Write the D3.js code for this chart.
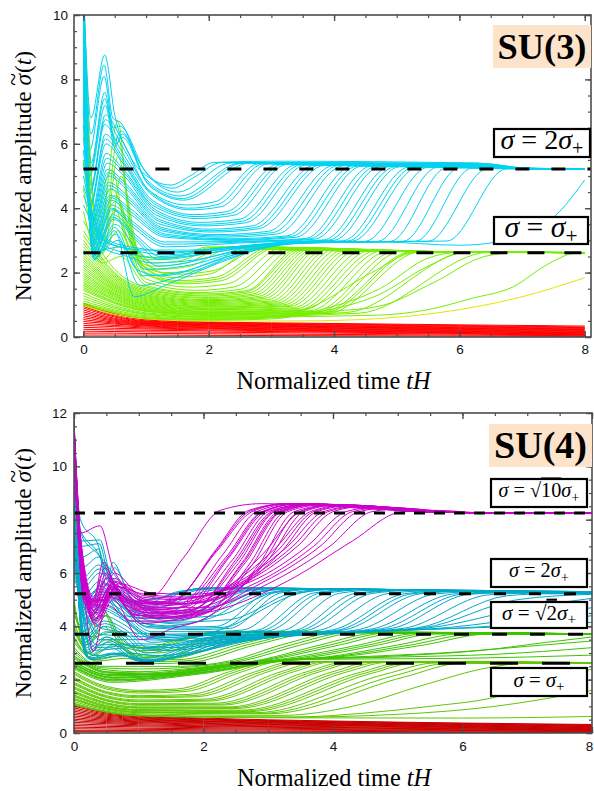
<!DOCTYPE html>
<html>
<head>
<meta charset="utf-8">
<script src="https://cdn.jsdelivr.net/npm/d3@7"></script>
<style>
  body { margin: 0; background: #fff; }
</style>
</head>
<body>
<svg id="chart" width="594" height="791"></svg>
<script>
// ---------------- data: SU(3) panel ----------------
const xTicks = [0, 2, 4, 6, 8];
const su3YTicks = [0, 2, 4, 6, 8, 10];
const su4YTicks = [0, 2, 4, 6, 8, 10, 12];

const su3Levels = [5.22, 2.62];
const su4Levels = [8.25, 5.22, 3.7, 2.62];

// red family, values at shared times
const su3RedTimes = [0, 0.5, 1, 2, 4, 8];
const su3Red = [
  [1.05, 0.72, 0.56, 0.47, 0.42, 0.34],
  [1.00, 0.69, 0.53, 0.45, 0.40, 0.31],
  [0.95, 0.65, 0.50, 0.43, 0.38, 0.29],
  [0.90, 0.62, 0.48, 0.42, 0.36, 0.27],
  [0.84, 0.58, 0.46, 0.40, 0.34, 0.25],
  [0.78, 0.55, 0.44, 0.38, 0.32, 0.23],
  [0.72, 0.52, 0.42, 0.37, 0.31, 0.21],
  [0.66, 0.49, 0.40, 0.35, 0.29, 0.19],
  [0.60, 0.46, 0.38, 0.33, 0.27, 0.17],
  [0.54, 0.43, 0.36, 0.31, 0.25, 0.15],
  [0.48, 0.40, 0.34, 0.29, 0.23, 0.13],
  [0.42, 0.36, 0.31, 0.27, 0.21, 0.12],
  [0.36, 0.32, 0.28, 0.25, 0.19, 0.10],
  [0.30, 0.27, 0.25, 0.22, 0.17, 0.09],
  [0.24, 0.22, 0.21, 0.19, 0.15, 0.07],
  [0.18, 0.17, 0.16, 0.15, 0.12, 0.06],
  [0.12, 0.12, 0.11, 0.10, 0.08, 0.04],
  [0.06, 0.06, 0.06, 0.05, 0.04, 0.02]
];

const su3Yellow = [
  [[0,0.98],[0.5,0.7],[1,0.56],[2,0.49],[3.5,0.5],[4.7,0.57],[6,0.85],[7,1.25],[8,1.84]]
];

const su3Green = [
  [[0,10.8],[0.1,6],[0.25,3.2],[0.55,6.7],[0.75,3.3],[1,2.5],[1.4,2.45],[2,2.8],[2.8,2.72],[6.5,2.64],[8,2.62]],
  [[0,1.12],[0.5,0.84],[1,0.66],[2,0.58],[3,0.62],[3.8,0.8],[4.7,1.3],[5.5,2.2],[6.1,2.64],[8,2.62]],
  [[0,10.5],[0.12,5],[0.3,2.8],[0.55,6.2],[0.8,3.0],[1.1,2.3],[1.5,2.35],[2.2,2.8],[3,2.72],[6.5,2.64],[8,2.62]],
  [[0,1.06],[0.5,0.8],[1,0.63],[2,0.56],[3.2,0.62],[4,0.8],[4.73,0.96],[5.6,1.7],[6.4,2.5],[7,2.64],[8,2.62]],
  [[0,10.2],[0.12,4.2],[0.3,2.6],[0.5,4.0],[0.7,2.9],[1,2.4],[1.5,2.5],[2.1,2.79],[2.9,2.72],[6.5,2.64],[8,2.62]],
  [[0,10],[0.1,4.5],[0.35,3.3],[0.55,5.6],[0.85,2.7],[1.2,2.1],[1.7,2.2],[2.4,2.8],[3.2,2.72],[6.5,2.63],[8,2.62]],
  [[0,1.02],[0.5,0.77],[1,0.6],[2,0.54],[2.8,0.57],[3.6,0.9],[4.6,2.0],[5.3,2.62],[8,2.62]],
  [[0,9.5],[0.15,3.8],[0.4,2.9],[0.6,5.0],[0.9,2.5],[1.3,2.0],[1.9,2.1],[2.6,2.8],[3.4,2.72],[6.5,2.63],[8,2.62]],
  [[0,9],[0.15,3.6],[0.45,5.2],[0.75,2.6],[1.1,2.2],[1.6,2.28],[2.3,2.8],[3.1,2.72],[6.5,2.63],[8,2.62]],
  [[0,0.99],[0.5,0.75],[1,0.58],[2,0.52],[3,0.56],[3.8,0.85],[4.73,1.5],[5.5,2.45],[6,2.63],[8,2.62]],
  [[0,8.5],[0.15,3.4],[0.45,4.6],[0.9,2.3],[1.4,1.85],[2,1.95],[2.8,2.8],[3.6,2.72],[6.5,2.63],[8,2.62]],
  [[0,8],[0.18,3.2],[0.5,4.4],[0.95,2.2],[1.45,1.95],[2.05,2.05],[2.9,2.8],[3.7,2.71],[6.5,2.63],[8,2.62]],
  [[0,7.5],[0.2,3.0],[0.5,4.2],[1,2.1],[1.5,1.75],[2.1,1.85],[3,2.8],[3.8,2.71],[6.5,2.63],[8,2.62]],
  [[0,7],[0.2,2.9],[0.52,3.9],[1,2.0],[1.55,1.7],[2.15,1.8],[3.05,2.79],[3.9,2.7],[6.5,2.63],[8,2.62]],
  [[0,6.5],[0.2,2.7],[0.5,3.7],[1,1.95],[1.6,1.65],[2.2,1.75],[3.1,2.79],[4,2.7],[6.5,2.63],[8,2.62]],
  [[0,5.5],[0.25,2.5],[0.55,3.3],[1,1.8],[1.7,1.55],[2.3,1.65],[3.2,2.79],[4.1,2.7],[6.5,2.63],[8,2.62]],
  [[0,4.6],[0.3,2.4],[0.6,2.9],[1,1.7],[1.8,1.45],[2.4,1.55],[3.3,2.78],[4.2,2.7],[6.5,2.63],[8,2.62]],
  [[0,3.9],[0.3,2.3],[0.6,2.5],[1,1.6],[1.8,1.38],[2.5,1.48],[3.4,2.78],[4.3,2.7],[6.5,2.63],[8,2.62]],
  [[0,3.6],[0.5,2.1],[1,1.55],[1.9,1.34],[2.6,1.44],[3.45,2.78],[4.3,2.7],[6.5,2.63],[8,2.62]],
  [[0,3.3],[0.5,2.0],[1,1.5],[1.9,1.3],[2.6,1.4],[3.5,2.77],[4.4,2.7],[6.5,2.63],[8,2.62]],
  [[0,3.15],[0.5,1.95],[1,1.46],[2,1.27],[2.65,1.37],[3.55,2.77],[4.45,2.7],[6.5,2.63],[8,2.62]],
  [[0,3.0],[0.5,1.9],[1,1.42],[2,1.23],[2.7,1.33],[3.6,2.77],[4.5,2.69],[6.5,2.63],[8,2.62]],
  [[0,2.9],[0.5,1.85],[1,1.38],[2,1.2],[2.75,1.3],[3.65,2.77],[4.55,2.69],[6.5,2.63],[8,2.62]],
  [[0,2.8],[0.5,1.8],[1,1.35],[2,1.16],[2.8,1.26],[3.7,2.76],[4.6,2.69],[6.5,2.63],[8,2.62]],
  [[0,2.7],[0.5,1.75],[1,1.31],[2,1.13],[2.85,1.23],[3.75,2.76],[4.65,2.69],[6.5,2.63],[8,2.62]],
  [[0,2.6],[0.5,1.7],[1,1.28],[2,1.1],[2.9,1.2],[3.8,2.76],[4.7,2.69],[6.5,2.63],[8,2.62]],
  [[0,2.52],[0.5,1.66],[1,1.25],[2,1.07],[2.95,1.16],[3.88,2.75],[4.75,2.68],[6.5,2.63],[8,2.62]],
  [[0,2.45],[0.5,1.62],[1,1.22],[2,1.04],[3,1.12],[3.95,2.75],[4.8,2.68],[6.5,2.63],[8,2.62]],
  [[0,2.38],[0.5,1.58],[1,1.19],[2,1.01],[3.05,1.09],[4.02,2.74],[4.9,2.68],[6.5,2.63],[8,2.62]],
  [[0,2.3],[0.5,1.55],[1,1.16],[2,0.98],[3.1,1.06],[4.1,2.74],[5,2.68],[6.5,2.63],[8,2.62]],
  [[0,2.22],[0.5,1.51],[1,1.13],[2,0.95],[3.15,1.03],[4.18,2.73],[5.05,2.67],[6.5,2.63],[8,2.62]],
  [[0,2.15],[0.5,1.47],[1,1.1],[2,0.93],[3.2,1.0],[4.25,2.73],[5.1,2.67],[6.5,2.63],[8,2.62]],
  [[0,2.08],[0.5,1.44],[1,1.07],[2,0.9],[3.25,0.97],[4.32,2.72],[5.15,2.67],[6.5,2.63],[8,2.62]],
  [[0,2.0],[0.5,1.4],[1,1.04],[2,0.88],[3.3,0.95],[4.4,2.72],[5.2,2.67],[6.5,2.63],[8,2.62]],
  [[0,1.94],[0.5,1.36],[1,1.01],[2,0.85],[3.35,0.91],[4.5,2.71],[5.3,2.66],[8,2.62]],
  [[0,1.88],[0.5,1.33],[1,0.99],[2,0.83],[3.4,0.88],[4.6,2.7],[5.4,2.66],[8,2.62]],
  [[0,1.82],[0.5,1.29],[1,0.96],[2,0.8],[3.45,0.85],[4.7,2.7],[5.5,2.65],[8,2.62]],
  [[0,1.76],[0.5,1.26],[1,0.93],[2,0.78],[3.5,0.83],[4.8,2.7],[5.6,2.65],[8,2.62]],
  [[0,1.7],[0.5,1.22],[1,0.9],[2,0.76],[3.6,0.81],[4.9,2.69],[5.7,2.65],[8,2.62]],
  [[0,1.65],[0.5,1.18],[1,0.88],[2,0.74],[3.7,0.8],[5.0,2.68],[5.8,2.65],[8,2.62]],
  [[0,1.6],[0.5,1.15],[1,0.85],[2,0.72],[3.75,0.78],[5.1,2.67],[5.9,2.64],[8,2.62]],
  [[0,1.55],[0.5,1.1],[1,0.83],[2,0.7],[3.8,0.76],[5.26,2.66],[6,2.64],[8,2.62]],
  [[0,1.5],[0.5,1.07],[1,0.81],[2,0.69],[3.85,0.75],[5.3,2.66],[6.05,2.64],[8,2.62]],
  [[0,1.45],[0.5,1.04],[1,0.79],[2,0.67],[3.9,0.73],[5.4,2.66],[6.1,2.64],[8,2.62]],
  [[0,1.36],[0.5,0.98],[1,0.75],[2,0.64],[4.2,0.76],[6.17,2.65],[8,2.62]],
  [[0,1.28],[0.5,0.93],[1,0.72],[2,0.62],[4.4,0.74],[6.5,2.64],[8,2.62]],
  [[0,1.2],[0.5,0.89],[1,0.7],[2,0.61],[4.7,0.68],[5.5,0.85],[6.2,1.2],[6.86,1.56],[7.4,2.25],[7.87,2.62],[8,2.63]]
];

const su3Cyan = [
  [[0,11],[0.12,6.8],[0.34,8.76],[0.5,6.9],[0.75,5.6],[1.05,4.95],[1.39,4.72],[1.7,5.0],[2.08,5.42],[3,5.46],[6.3,5.4],[7.1,5.24],[8,5.22]],
  [[0,11],[0.12,6.3],[0.33,8.45],[0.47,6.8],[0.6,6.65],[0.9,5.4],[1.42,4.62],[1.8,5.0],[2.2,5.42],[6.3,5.4],[7.1,5.24],[8,5.22]],
  [[0,11],[0.1,5.8],[0.33,8.1],[0.48,6.5],[0.58,6.55],[1,5.1],[1.5,4.5],[2.35,5.4],[6.2,5.38],[7.1,5.23],[8,5.22]],
  [[0,11],[0.12,5.4],[0.34,7.6],[0.5,6.1],[0.6,6.4],[1,4.9],[1.55,4.38],[2.5,5.4],[6.2,5.37],[7.1,5.23],[8,5.22]],
  [[0,11],[0.11,5.2],[0.34,7.4],[0.52,6.0],[0.62,6.2],[1.02,4.8],[1.58,4.3],[2.55,5.4],[6.2,5.37],[7.1,5.23],[8,5.22]],
  [[0,11],[0.1,5.0],[0.35,7.2],[0.5,5.9],[0.62,6.3],[1.05,4.7],[1.6,4.25],[2.65,5.4],[6.2,5.36],[7.1,5.23],[8,5.22]],
  [[0,11],[0.12,4.7],[0.35,6.9],[0.62,6.1],[1.05,4.55],[1.65,4.1],[2.1,4.2],[2.8,5.38],[6,5.35],[7,5.23],[8,5.22]],
  [[0,11],[0.11,4.55],[0.35,6.75],[0.61,5.95],[1.07,4.5],[1.68,4.0],[2.15,4.12],[2.88,5.38],[6,5.35],[7,5.23],[8,5.22]],
  [[0,11],[0.1,4.4],[0.34,6.6],[0.6,5.8],[1.1,4.4],[1.7,3.95],[2.2,4.05],[2.95,5.38],[6,5.34],[7,5.23],[8,5.22]],
  [[0,11],[0.12,4.2],[0.35,6.3],[0.62,5.6],[1.1,4.25],[1.75,3.8],[2.3,3.9],[3.1,5.36],[6,5.33],[7,5.23],[8,5.22]],
  [[0,11],[0.11,4.1],[0.35,6.15],[0.62,5.5],[1.1,4.18],[1.78,3.74],[2.35,3.84],[3.18,5.36],[6,5.33],[7,5.23],[8,5.22]],
  [[0,11],[0.1,4.0],[0.36,6.0],[0.63,5.4],[1.1,4.1],[1.8,3.68],[2.4,3.78],[3.25,5.36],[6,5.32],[7,5.23],[8,5.22]],
  [[0,10.8],[0.12,3.8],[0.36,5.7],[0.64,5.2],[1.15,3.95],[1.85,3.56],[2.5,3.66],[3.4,5.35],[6,5.31],[7,5.23],[8,5.22]],
  [[0,10.7],[0.12,3.7],[0.37,5.55],[0.65,5.1],[1.15,3.88],[1.88,3.5],[2.55,3.6],[3.48,5.35],[6,5.31],[7,5.23],[8,5.22]],
  [[0,10.6],[0.12,3.6],[0.38,5.4],[0.65,5.0],[1.15,3.8],[1.9,3.45],[2.6,3.55],[3.55,5.34],[6,5.3],[7,5.23],[8,5.22]],
  [[0,10.4],[0.12,3.45],[0.38,5.2],[0.66,4.8],[1.2,3.66],[2,3.35],[2.7,3.45],[3.7,5.34],[6,5.3],[7,5.23],[8,5.22]],
  [[0,10.3],[0.12,3.4],[0.39,5.1],[0.67,4.7],[1.2,3.6],[2.02,3.3],[2.75,3.4],[3.78,5.34],[6,5.3],[7,5.23],[8,5.22]],
  [[0,10.2],[0.13,3.3],[0.4,5.0],[0.68,4.6],[1.2,3.52],[2.05,3.26],[2.8,3.36],[3.85,5.33],[6.1,5.3],[7,5.23],[8,5.22]],
  [[0,10],[0.13,3.15],[0.4,4.8],[0.7,4.4],[1.25,3.4],[2.1,3.18],[2.95,3.28],[4.0,5.33],[6.1,5.3],[7,5.23],[8,5.22]],
  [[0,9.9],[0.13,3.1],[0.41,4.7],[0.71,4.3],[1.25,3.35],[2.15,3.14],[3.02,3.24],[4.08,5.33],[6.1,5.3],[7,5.23],[8,5.22]],
  [[0,9.8],[0.14,3.0],[0.42,4.6],[0.72,4.2],[1.25,3.3],[2.2,3.1],[3.1,3.2],[4.15,5.32],[6.1,5.3],[7,5.23],[8,5.22]],
  [[0,9.5],[0.14,2.9],[0.42,4.4],[0.74,4.0],[1.3,3.2],[2.3,3.05],[3.25,3.14],[4.3,5.32],[6.2,5.3],[7,5.23],[8,5.22]],
  [[0,9.35],[0.14,2.85],[0.43,4.33],[0.75,3.9],[1.3,3.15],[2.35,3.02],[3.32,3.12],[4.38,5.31],[6.2,5.3],[7,5.23],[8,5.22]],
  [[0,9.2],[0.15,2.8],[0.44,4.25],[0.76,3.8],[1.3,3.1],[2.4,3.0],[3.4,3.1],[4.45,5.31],[6.2,5.3],[7,5.23],[8,5.22]],
  [[0,9],[0.15,2.7],[0.45,4.1],[0.78,3.6],[1.3,2.95],[2.5,2.97],[3.55,3.06],[4.6,5.31],[6.3,5.3],[7.1,5.23],[8,5.22]],
  [[0,8.8],[0.15,2.65],[0.45,4.0],[0.79,3.5],[1.3,2.88],[2.5,2.95],[3.62,3.05],[4.68,5.3],[6.3,5.29],[7.1,5.23],[8,5.22]],
  [[0,8.6],[0.15,2.6],[0.46,3.95],[0.8,3.4],[1.3,2.8],[2.5,2.92],[3.7,3.04],[4.75,5.3],[6.3,5.29],[7.1,5.23],[8,5.22]],
  [[0,8.2],[0.16,2.55],[0.47,3.8],[0.82,3.2],[1.25,2.6],[2.4,2.8],[3.2,2.95],[3.85,3.02],[4.9,5.3],[6.4,5.29],[7.1,5.23],[8,5.22]],
  [[0,8],[0.16,2.52],[0.47,3.72],[0.83,3.1],[1.22,2.5],[2.35,2.75],[3.2,2.94],[3.92,3.01],[4.98,5.29],[6.4,5.28],[7.1,5.23],[8,5.22]],
  [[0,7.8],[0.16,2.5],[0.48,3.65],[0.84,3.0],[1.2,2.4],[2.3,2.7],[3.2,2.93],[4.0,3.0],[5.05,5.29],[6.4,5.28],[7.1,5.23],[8,5.22]],
  [[0,7.4],[0.17,2.45],[0.5,3.5],[0.86,2.7],[1.2,2.2],[2.3,2.6],[3.2,2.92],[4.15,2.99],[5.2,5.28],[6.5,5.28],[7.2,5.23],[8,5.22]],
  [[0,7.2],[0.17,2.42],[0.5,3.4],[0.85,2.1],[1.25,1.9],[2.3,2.5],[3.2,2.91],[4.22,2.98],[5.28,5.28],[6.5,5.27],[7.2,5.23],[8,5.22]],
  [[0,7],[0.18,2.4],[0.5,3.3],[0.81,1.25],[1.3,1.6],[2.3,2.4],[3.2,2.9],[4.3,2.98],[5.35,5.28],[6.5,5.27],[7.2,5.23],[8,5.22]],
  [[0,6.6],[0.2,2.5],[0.52,3.2],[0.9,1.6],[1.4,1.8],[2.4,2.5],[3.3,2.9],[4.5,2.97],[5.5,5.27],[6.6,5.26],[7.3,5.23],[8,5.22]],
  [[0,6.2],[0.22,2.6],[0.55,3.0],[0.95,1.9],[1.5,2.0],[2.5,2.6],[3.4,2.9],[4.7,2.97],[5.65,5.27],[6.7,5.26],[7.3,5.23],[8,5.22]],
  [[0,5.8],[0.25,2.7],[0.6,2.8],[1,2.1],[1.6,2.2],[2.6,2.7],[3.5,2.92],[4.9,2.97],[5.8,5.26],[6.8,5.25],[8,5.22]],
  [[0,5.4],[0.3,2.8],[0.7,2.5],[1.1,2.3],[1.8,2.4],[2.7,2.8],[3.6,2.93],[5.1,2.97],[6.0,5.25],[7,5.24],[8,5.22]],
  [[0,5.0],[0.3,2.9],[0.7,2.6],[1.2,2.45],[2,2.6],[2.8,2.85],[3.7,2.94],[5.3,2.97],[6.2,5.24],[8,5.22]],
  [[0,4.7],[0.35,3.0],[0.8,2.7],[1.3,2.55],[2.1,2.7],[2.9,2.88],[3.8,2.95],[5.5,2.97],[6.45,5.23],[8,5.22]],
  [[0,4.4],[0.4,3.0],[0.9,2.75],[1.5,2.65],[2.3,2.78],[3,2.9],[4,2.95],[5.8,2.98],[6.75,5.22],[8,5.22]],
  [[0,4.1],[0.4,2.9],[1,2.7],[1.7,2.7],[2.5,2.82],[3.3,2.92],[4.73,2.95],[6,2.85],[6.6,2.95],[7.12,3.23],[7.6,3.9],[8,4.88]]
];

// ---------------- data: SU(4) panel ----------------
const su4RedTimes = [0, 0.5, 1, 2, 4, 8];
const su4Red = [
  [1.05, 0.78, 0.66, 0.56, 0.45, 0.32],
  [1.00, 0.75, 0.63, 0.53, 0.43, 0.30],
  [0.94, 0.71, 0.60, 0.51, 0.41, 0.28],
  [0.88, 0.67, 0.57, 0.49, 0.39, 0.26],
  [0.82, 0.63, 0.54, 0.46, 0.37, 0.24],
  [0.76, 0.59, 0.51, 0.44, 0.35, 0.22],
  [0.70, 0.55, 0.48, 0.42, 0.33, 0.20],
  [0.64, 0.51, 0.45, 0.39, 0.31, 0.18],
  [0.58, 0.47, 0.42, 0.36, 0.29, 0.16],
  [0.52, 0.43, 0.39, 0.33, 0.27, 0.14],
  [0.46, 0.39, 0.35, 0.30, 0.24, 0.13],
  [0.40, 0.35, 0.31, 0.27, 0.21, 0.11],
  [0.34, 0.30, 0.27, 0.24, 0.19, 0.10],
  [0.28, 0.25, 0.23, 0.20, 0.16, 0.08],
  [0.22, 0.20, 0.18, 0.16, 0.13, 0.06],
  [0.16, 0.15, 0.14, 0.12, 0.10, 0.05],
  [0.10, 0.10, 0.09, 0.08, 0.06, 0.03],
  [0.05, 0.05, 0.05, 0.04, 0.03, 0.01]
];

const su4GreenLow = [
  [[0,2.3],[0.5,1.75],[1,1.6],[1.6,1.65],[2.4,2.3],[3,2.68],[5,2.68],[8,2.64]],
  [[0,2.25],[0.5,1.7],[1,1.55],[1.65,1.6],[2.5,2.3],[3.1,2.68],[5,2.68],[8,2.64]],
  [[0,2.2],[0.5,1.65],[1,1.5],[1.7,1.55],[2.6,2.3],[3.2,2.68],[5,2.68],[8,2.64]],
  [[0,2.1],[0.5,1.55],[1,1.4],[1.8,1.45],[2.8,2.3],[3.4,2.68],[5.5,2.67],[8,2.63]],
  [[0,2.05],[0.5,1.52],[1,1.36],[1.85,1.4],[2.9,2.3],[3.5,2.68],[5.5,2.67],[8,2.63]],
  [[0,2.0],[0.5,1.48],[1,1.32],[1.9,1.36],[3.0,2.3],[3.6,2.68],[5.5,2.67],[8,2.63]],
  [[0,1.9],[0.5,1.4],[1,1.24],[2,1.27],[3.2,2.3],[3.8,2.67],[6,2.66],[8,2.63]],
  [[0,1.86],[0.5,1.36],[1,1.2],[2.05,1.23],[3.3,2.3],[3.9,2.67],[6,2.66],[8,2.63]],
  [[0,1.82],[0.5,1.33],[1,1.17],[2.1,1.2],[3.4,2.3],[4.0,2.67],[6,2.66],[8,2.63]],
  [[0,1.74],[0.5,1.26],[1,1.1],[2.2,1.12],[3.6,2.3],[4.2,2.66],[6,2.65],[8,2.63]],
  [[0,1.7],[0.5,1.23],[1,1.07],[2.25,1.08],[3.7,2.3],[4.3,2.66],[6,2.65],[8,2.63]],
  [[0,1.66],[0.5,1.2],[1,1.04],[2.3,1.05],[3.8,2.3],[4.4,2.66],[6.5,2.64],[8,2.62]],
  [[0,1.58],[0.5,1.14],[1,0.98],[2.4,0.98],[4.0,2.3],[4.6,2.66],[6.5,2.64],[8,2.62]],
  [[0,1.54],[0.5,1.11],[1,0.95],[2.45,0.95],[4.1,2.29],[4.72,2.65],[6.5,2.64],[8,2.62]],
  [[0,1.5],[0.5,1.08],[1,0.93],[2.5,0.92],[4.2,2.28],[4.85,2.65],[6.5,2.64],[8,2.62]],
  [[0,1.43],[0.5,1.03],[1,0.88],[2.6,0.86],[4.4,2.26],[5.1,2.65],[8,2.62]],
  [[0,1.4],[0.5,1.0],[1,0.86],[2.65,0.83],[4.5,2.25],[5.2,2.64],[8,2.62]],
  [[0,1.36],[0.5,0.98],[1,0.84],[2.7,0.8],[4.6,2.24],[5.3,2.64],[8,2.62]],
  [[0,1.3],[0.5,0.94],[1,0.8],[2.8,0.76],[4.8,2.2],[5.6,2.63],[8,2.62]],
  [[0,1.27],[0.5,0.92],[1,0.78],[2.9,0.74],[4.95,2.15],[5.8,2.62],[8,2.62]],
  [[0,1.24],[0.5,0.9],[1,0.76],[3,0.72],[5.1,2.1],[6,2.62],[8,2.62]],
  [[0,1.18],[0.5,0.86],[1,0.72],[3.2,0.66],[4.3,1.0],[5.4,1.8],[6.4,2.45],[7,2.62],[8,2.62]],
  [[0,1.12],[0.5,0.82],[1,0.68],[3.4,0.6],[4.5,0.75],[5.5,1.0],[6.43,1.3],[7.3,1.9],[8,2.4]],
  [[0,1.09],[0.5,0.8],[1,0.66],[3.2,0.59],[5,0.7],[6.5,1.0],[8,1.6]],
  [[0,1.06],[0.5,0.78],[1,0.64],[3,0.57],[6,0.56],[8,0.62]]
];

const su4GreenMid = [
  [[0,5],[0.15,3.5],[0.4,4.8],[0.7,3.4],[1.1,3.2],[1.6,3.5],[2.2,3.8],[5,3.78],[8,3.72]],
  [[0,4.8],[0.18,3.4],[0.45,4.6],[0.75,3.35],[1.15,3.18],[1.7,3.52],[2.3,3.8],[5,3.78],[8,3.72]],
  [[0,4.6],[0.2,3.3],[0.5,4.4],[0.8,3.3],[1.2,3.15],[1.8,3.55],[2.4,3.8],[5,3.78],[8,3.72]],
  [[0,4.4],[0.3,3.6],[0.6,3.8],[1.0,3.1],[1.5,3.1],[2.1,3.5],[2.8,3.8],[5,3.77],[8,3.72]],
  [[0,4.2],[0.2,3.2],[0.45,4.0],[0.8,3.2],[1.3,3.0],[2.0,3.5],[2.6,3.78],[5,3.78],[8,3.72]],
  [[0,4.0],[0.25,3.0],[0.5,3.6],[0.9,3.0],[1.4,2.9],[2.2,3.45],[2.9,3.78],[5,3.77],[8,3.72]],
  [[0,3.9],[0.28,2.95],[0.55,3.45],[0.95,2.92],[1.45,2.85],[2.3,3.42],[3.05,3.78],[5.5,3.77],[8,3.72]],
  [[0,3.8],[0.3,2.9],[0.6,3.3],[1,2.85],[1.5,2.8],[2.4,3.4],[3.2,3.78],[5.5,3.77],[8,3.72]],
  [[0,3.6],[0.3,2.8],[0.7,3.0],[1.1,2.75],[1.6,2.75],[2.6,3.35],[3.5,3.77],[5.5,3.76],[8,3.71]],
  [[0,3.5],[0.33,2.75],[0.75,2.9],[1.15,2.68],[1.7,2.7],[2.7,3.32],[3.65,3.77],[6,3.76],[8,3.71]],
  [[0,3.4],[0.35,2.7],[0.8,2.8],[1.2,2.6],[1.8,2.65],[2.8,3.3],[3.8,3.77],[6,3.76],[8,3.71]],
  [[0,3.2],[0.4,2.5],[1,2.5],[1.6,2.5],[2.4,2.7],[3.2,3.3],[4.1,3.76],[6,3.75],[8,3.71]],
  [[0,3.1],[0.4,2.45],[1,2.4],[1.65,2.45],[2.5,2.7],[3.35,3.3],[4.25,3.76],[6,3.75],[8,3.71]],
  [[0,3.0],[0.4,2.4],[1,2.3],[1.7,2.4],[2.6,2.7],[3.5,3.3],[4.4,3.76],[6,3.75],[8,3.71]],
  [[0,2.9],[0.5,2.3],[1.1,2.25],[2,2.45],[2.9,2.75],[3.8,3.3],[4.7,3.75],[6.5,3.74],[8,3.71]],
  [[0,2.85],[0.5,2.28],[1.15,2.22],[2.1,2.48],[3,2.77],[3.95,3.3],[4.85,3.75],[6.5,3.73],[8,3.71]],
  [[0,2.8],[0.5,2.25],[1.2,2.2],[2.2,2.5],[3.1,2.78],[4.1,3.3],[5.0,3.74],[6.5,3.73],[8,3.71]],
  [[0,2.7],[0.5,2.2],[1.3,2.2],[2.4,2.55],[3.3,2.8],[4.4,3.3],[5.3,3.73],[8,3.71]],
  [[0,2.68],[0.55,2.18],[1.35,2.2],[2.5,2.58],[3.45,2.81],[4.55,3.3],[5.45,3.72],[8,3.71]],
  [[0,2.65],[0.6,2.15],[1.4,2.2],[2.6,2.6],[3.6,2.82],[4.7,3.3],[5.6,3.72],[8,3.7]],
  [[0,2.6],[0.6,2.1],[1.5,2.2],[2.8,2.65],[3.9,2.85],[5,3.3],[6.0,3.72],[8,3.7]],
  [[0,2.58],[0.6,2.08],[1.55,2.2],[2.9,2.68],[4.05,2.87],[5.2,3.3],[6.2,3.71],[8,3.7]],
  [[0,2.55],[0.6,2.05],[1.6,2.2],[3,2.7],[4.2,2.88],[5.4,3.3],[6.4,3.71],[8,3.7]],
  [[0,2.5],[0.6,2.0],[1.7,2.2],[3.2,2.72],[4.6,2.88],[6,3.05],[7,3.25],[8,3.45]],
  [[0,2.48],[0.6,1.98],[1.75,2.2],[3.3,2.73],[4.8,2.87],[6.3,3.1],[7.3,3.4],[8,3.6]],
  [[0,2.45],[0.6,1.95],[1.8,2.2],[3.4,2.74],[5,2.85],[6.5,2.95],[8,3.2]],
  [[0,2.4],[0.6,1.9],[1.9,2.2],[3.6,2.76],[6,2.8],[8,2.92]]
];

const su4Teal = [
  [[0,10.8],[0.12,7.2],[0.4,7.24],[0.55,6.0],[0.8,5.1],[1.1,4.85],[1.5,5.2],[2.1,5.44],[5,5.38],[8,5.3]],
  [[0,11],[0.1,8],[0.38,7.0],[0.5,5.5],[0.6,6.4],[0.85,5.3],[1.2,5.0],[1.6,5.3],[2.2,5.44],[5,5.38],[8,5.3]],
  [[0,11],[0.1,7.5],[0.4,6.6],[0.7,5.2],[1.05,4.95],[1.4,5.1],[2.0,5.44],[5,5.38],[8,5.3]],
  [[0,10.9],[0.1,7.6],[0.36,6.8],[0.55,5.9],[0.9,4.9],[1.3,4.7],[1.9,5.35],[2.5,5.44],[5,5.37],[8,5.29]],
  [[0,10.7],[0.11,7.0],[0.39,7.1],[0.54,5.8],[0.85,5.0],[1.2,4.75],[1.7,5.3],[2.3,5.44],[5,5.37],[8,5.29]],
  [[0,10.6],[0.12,6.6],[0.38,6.9],[0.52,5.7],[0.62,6.2],[0.9,5.0],[1.25,4.68],[2.0,5.3],[2.6,5.44],[5,5.37],[8,5.29]],
  [[0,10.4],[0.12,6.2],[0.38,6.6],[0.6,6.0],[1,4.8],[1.35,4.5],[2.2,5.3],[2.8,5.43],[5,5.36],[8,5.28]],
  [[0,10.2],[0.12,5.8],[0.38,6.3],[0.6,5.8],[1,4.6],[1.5,4.35],[2.4,5.28],[3.0,5.42],[5.5,5.35],[8,5.27]],
  [[0,10.1],[0.12,5.6],[0.39,6.15],[0.61,5.6],[1.02,4.5],[1.55,4.28],[2.5,5.28],[3.1,5.42],[5.5,5.34],[8,5.26]],
  [[0,10],[0.12,5.4],[0.4,6.0],[0.62,5.5],[1.05,4.4],[1.6,4.2],[2.6,5.28],[3.2,5.42],[5.5,5.34],[8,5.26]],
  [[0,9.9],[0.14,5.0],[0.42,5.5],[0.75,4.7],[1.2,4.5],[2.0,4.6],[2.8,5.3],[3.4,5.42],[6,5.33],[8,5.26]],
  [[0,10],[0.15,4.9],[0.45,5.6],[0.8,4.6],[1.3,4.0],[2.1,4.3],[2.9,5.3],[3.5,5.42],[6,5.33],[8,5.26]],
  [[0,9.8],[0.12,5.1],[0.4,5.7],[0.62,5.3],[1.1,4.25],[1.7,4.08],[2.8,5.27],[3.4,5.41],[5.5,5.33],[8,5.25]],
  [[0,9.7],[0.14,4.7],[0.44,5.3],[0.78,4.4],[1.3,4.3],[2.2,4.4],[3.1,5.28],[3.7,5.41],[6,5.32],[8,5.25]],
  [[0,9.6],[0.12,4.8],[0.4,5.4],[0.65,5.1],[1.1,4.1],[1.8,3.98],[2.2,4.0],[3.0,5.26],[3.6,5.4],[6,5.32],[8,5.25]],
  [[0,9.5],[0.12,4.7],[0.41,5.3],[0.65,5.0],[1.12,4.0],[1.85,3.93],[2.3,3.96],[3.1,5.26],[3.7,5.4],[6,5.32],[8,5.25]],
  [[0,9.4],[0.12,4.6],[0.42,5.2],[0.65,4.9],[1.15,3.95],[1.9,3.88],[2.4,3.92],[3.2,5.26],[3.8,5.4],[6,5.32],[8,5.25]],
  [[0,9.3],[0.15,4.5],[0.46,5.1],[0.8,4.2],[1.4,4.15],[2.4,4.25],[3.4,5.27],[4.0,5.4],[6,5.31],[8,5.24]],
  [[0,9.2],[0.13,4.4],[0.42,5.0],[0.68,4.7],[1.2,3.8],[2,3.8],[2.6,3.86],[3.45,5.25],[4.1,5.39],[6,5.31],[8,5.24]],
  [[0,9],[0.15,4.3],[0.5,5.0],[0.9,4.0],[1.4,3.5],[2.3,3.9],[3.5,5.25],[4.1,5.4],[6.5,5.3],[8,5.24]],
  [[0,9],[0.13,4.2],[0.44,4.8],[0.7,4.5],[1.2,3.7],[2.1,3.75],[2.8,3.84],[3.7,5.25],[4.3,5.38],[6.5,5.3],[8,5.24]],
  [[0,8.9],[0.13,4.1],[0.44,4.7],[0.71,4.4],[1.2,3.62],[2.15,3.74],[2.9,3.84],[3.8,5.25],[4.4,5.38],[6.5,5.3],[8,5.24]],
  [[0,8.8],[0.14,4.0],[0.45,4.6],[0.72,4.3],[1.2,3.55],[2.2,3.72],[3.0,3.83],[3.9,5.24],[4.5,5.37],[6.5,5.3],[8,5.24]],
  [[0,8.6],[0.14,3.8],[0.46,4.4],[0.75,4.1],[1.2,3.4],[2.2,3.7],[3.2,3.83],[4.1,5.24],[4.7,5.36],[6.5,5.29],[8,5.23]],
  [[0,8.4],[0.15,3.6],[0.46,4.2],[0.78,3.9],[1.15,3.2],[2.1,3.6],[3.4,3.84],[4.35,5.24],[5.0,5.35],[6.5,5.29],[8,5.23]],
  [[0,8.3],[0.15,3.5],[0.47,4.1],[0.79,3.75],[1.12,3.1],[2.05,3.55],[3.5,3.85],[4.48,5.24],[5.1,5.35],[6.5,5.29],[8,5.23]],
  [[0,8.2],[0.15,3.4],[0.48,4.0],[0.8,3.6],[1.1,3.0],[2,3.5],[3.6,3.85],[4.6,5.23],[5.2,5.34],[7,5.27],[8,5.23]],
  [[0,8],[0.16,3.3],[0.5,3.8],[0.85,3.3],[1.1,2.8],[2,3.45],[3.8,3.86],[4.85,5.23],[5.5,5.33],[7,5.26],[8,5.23]],
  [[0,7.8],[0.17,3.1],[0.5,3.6],[0.9,3.0],[1.1,2.7],[2,3.4],[4.0,3.87],[5.1,5.22],[5.7,5.32],[7,5.26],[8,5.23]],
  [[0,7.7],[0.17,3.0],[0.51,3.5],[0.9,2.9],[1.15,2.68],[2.05,3.38],[4.1,3.87],[5.22,5.22],[5.85,5.31],[8,5.23]],
  [[0,7.6],[0.18,2.95],[0.52,3.4],[0.9,2.8],[1.2,2.66],[2.1,3.35],[4.2,3.88],[5.35,5.22],[6,5.31],[8,5.23]],
  [[0,7.4],[0.2,2.85],[0.55,3.2],[1,2.7],[1.4,2.75],[2.3,3.4],[4.4,3.88],[5.6,5.22],[6.3,5.3],[8,5.23]],
  [[0,7.2],[0.22,2.8],[0.6,3.0],[1.1,2.7],[1.6,2.85],[2.5,3.45],[4.6,3.9],[5.85,5.21],[6.5,5.28],[8,5.23]],
  [[0,7.1],[0.23,2.78],[0.65,2.95],[1.15,2.72],[1.7,2.9],[2.6,3.48],[4.75,3.91],[5.98,5.2],[6.65,5.27],[8,5.23]],
  [[0,7],[0.25,2.75],[0.7,2.9],[1.2,2.75],[1.8,2.95],[2.7,3.5],[4.9,3.92],[6.1,5.2],[6.8,5.26],[8,5.23]],
  [[0,6.8],[0.3,2.9],[0.8,3.0],[1.3,2.9],[2,3.1],[2.9,3.55],[5.1,3.93],[6.4,5.18],[7,5.24],[8,5.22]],
  [[0,6.6],[0.3,3.1],[0.9,3.2],[1.5,3.1],[2.2,3.3],[3.1,3.6],[5.3,3.94],[6.7,5.15],[7.3,5.22],[8,5.22]],
  [[0,6.5],[0.33,3.2],[0.95,3.28],[1.55,3.2],[2.3,3.38],[3.2,3.62],[5.4,3.95],[6.85,5.0],[8,5.2]],
  [[0,6.4],[0.35,3.3],[1,3.35],[1.6,3.3],[2.4,3.45],[3.3,3.65],[5.5,3.95],[7.0,4.7],[8,5.05]],
  [[0,6.2],[0.4,3.5],[1.1,3.5],[1.8,3.45],[2.6,3.55],[3.5,3.7],[5.8,3.96],[7.2,4.4],[8,4.7]],
  [[0,6.0],[0.4,3.7],[1.2,3.6],[2,3.55],[2.8,3.65],[3.8,3.75],[6.2,3.97],[7.4,4.2],[8,4.4]],
  [[0,5.8],[0.45,3.9],[1.3,3.7],[2.2,3.65],[3,3.72],[4,3.8],[6.6,3.98],[8,4.15]]
];

const su4Magenta = [
  [[0,11.8],[0.1,7.5],[0.4,7.77],[0.6,6.2],[0.9,5.3],[1.13,5.0],[1.7,6.6],[2.26,8.35],[2.9,8.6],[5.8,8.27],[8,8.25]],
  [[0,11.7],[0.1,7.4],[0.3,5.1],[0.45,6.0],[0.75,5.1],[1.15,4.9],[1.55,5.0],[2.2,6.9],[2.7,8.35],[3.3,8.6],[5.8,8.27],[8,8.25]],
  [[0,11.65],[0.1,7.3],[0.3,4.95],[0.48,6.2],[0.72,5.1],[1.12,4.85],[1.52,4.95],[2.2,6.85],[2.72,8.32],[3.3,8.6],[5.8,8.27],[8,8.25]],
  [[0,11.6],[0.1,7.2],[0.3,5.0],[0.45,6.4],[0.7,5.2],[1.1,4.8],[1.5,4.9],[2.2,6.8],[2.75,8.3],[3.3,8.6],[5.8,8.27],[8,8.25]],
  [[0,11.6],[0.1,7.2],[0.3,4.9],[0.5,5.8],[0.8,5.0],[1.2,4.75],[1.65,4.85],[2.3,6.7],[2.82,8.3],[3.4,8.6],[5.8,8.27],[8,8.25]],
  [[0,11.5],[0.1,7],[0.3,4.8],[0.5,6.0],[0.75,5.0],[1.2,4.6],[1.6,4.7],[2.35,6.6],[2.9,8.3],[3.5,8.6],[5.8,8.27],[8,8.25]],
  [[0,11.45],[0.11,6.9],[0.3,4.75],[0.52,5.85],[0.8,4.95],[1.25,4.62],[1.68,4.72],[2.38,6.6],[2.92,8.3],[3.5,8.6],[5.8,8.27],[8,8.25]],
  [[0,11.5],[0.12,6.8],[0.3,4.7],[0.55,5.7],[0.85,4.9],[1.3,4.65],[1.75,4.75],[2.4,6.6],[2.95,8.3],[3.5,8.6],[5.8,8.27],[8,8.25]],
  [[0,11.4],[0.12,6.5],[0.3,4.6],[0.5,5.6],[0.8,4.8],[1.25,4.5],[1.7,4.6],[2.45,6.5],[3.0,8.3],[3.6,8.58],[5.8,8.27],[8,8.25]],
  [[0,11.4],[0.12,6.4],[0.3,4.5],[0.55,5.5],[0.9,4.7],[1.35,4.55],[1.85,4.65],[2.5,6.5],[3.05,8.3],[3.6,8.59],[5.8,8.27],[8,8.25]],
  [[0,11.35],[0.12,6.3],[0.29,4.45],[0.55,5.45],[0.88,4.65],[1.32,4.48],[1.82,4.6],[2.52,6.45],[3.08,8.3],[3.65,8.59],[5.8,8.27],[8,8.25]],
  [[0,11.3],[0.12,6.2],[0.28,4.4],[0.55,5.4],[0.85,4.6],[1.3,4.4],[1.8,4.55],[2.55,6.4],[3.1,8.3],[3.7,8.58],[5.8,8.27],[8,8.25]],
  [[0,11.3],[0.12,6.1],[0.32,4.3],[0.6,5.2],[0.95,4.4],[1.4,4.45],[1.95,4.6],[2.6,6.4],[3.15,8.3],[3.7,8.59],[5.8,8.27],[8,8.25]],
  [[0,11.25],[0.12,6.05],[0.31,4.25],[0.6,5.25],[0.92,4.45],[1.38,4.35],[1.92,4.55],[2.62,6.4],[3.18,8.3],[3.75,8.58],[5.8,8.27],[8,8.25]],
  [[0,11.2],[0.12,6.0],[0.3,4.2],[0.6,5.3],[0.9,4.5],[1.35,4.3],[1.9,4.5],[2.65,6.4],[3.2,8.3],[3.8,8.57],[5.9,8.27],[8,8.25]],
  [[0,11.2],[0.13,5.9],[0.33,4.1],[0.6,5.1],[1,4.3],[1.45,4.35],[2.05,4.55],[2.7,6.3],[3.25,8.3],[3.8,8.58],[5.8,8.27],[8,8.25]],
  [[0,11.1],[0.14,5.8],[0.3,3.07],[0.5,4.8],[0.9,4.2],[1.4,4.2],[2.0,4.45],[2.75,6.3],[3.3,8.3],[3.9,8.57],[5.9,8.27],[8,8.25]],
  [[0,11],[0.14,5.6],[0.35,4.0],[0.6,5.0],[1.03,3.5],[1.5,3.9],[2.1,4.4],[2.85,6.3],[3.4,8.3],[4.0,8.56],[5.9,8.27],[8,8.25]],
  [[0,11.05],[0.14,5.65],[0.35,4.2],[0.61,5.2],[1.04,4.1],[1.55,4.25],[2.2,4.7],[2.92,6.4],[3.47,8.3],[4.05,8.56],[5.9,8.27],[8,8.25]],
  [[0,11],[0.14,5.5],[0.35,4.5],[0.6,5.6],[1,4.9],[1.5,4.8],[2.2,5.2],[2.95,6.8],[3.5,8.3],[4.1,8.56],[5.9,8.27],[8,8.25]],
  [[0,11],[0.14,5.7],[0.36,4.3],[0.62,5.4],[1.05,4.7],[1.6,4.6],[2.3,5.0],[3.0,6.5],[3.55,8.3],[4.1,8.56],[5.9,8.27],[8,8.25]],
  [[0,10.9],[0.15,5.4],[0.4,4.6],[0.62,5.8],[1,5.0],[1.6,4.9],[2.3,5.4],[3.1,6.9],[3.65,8.3],[4.2,8.55],[5.9,8.27],[8,8.25]],
  [[0,10.95],[0.15,5.45],[0.38,4.5],[0.63,5.65],[1.05,4.95],[1.65,4.85],[2.38,5.3],[3.15,6.85],[3.7,8.3],[4.25,8.54],[5.9,8.27],[8,8.25]],
  [[0,10.9],[0.15,5.5],[0.4,4.4],[0.64,5.5],[1.1,4.9],[1.7,4.85],[2.45,5.3],[3.2,6.8],[3.75,8.3],[4.3,8.53],[5.9,8.27],[8,8.25]],
  [[0,10.8],[0.15,5.3],[0.4,4.7],[0.62,6.0],[1.05,5.1],[1.6,5.0],[2.4,5.5],[3.3,7.0],[3.85,8.3],[4.4,8.52],[6,8.26],[8,8.25]],
  [[0,10.75],[0.15,5.25],[0.41,4.75],[0.61,5.7],[1.08,5.15],[1.65,5.05],[2.45,5.5],[3.38,7.0],[3.92,8.3],[4.45,8.51],[6,8.26],[8,8.25]],
  [[0,10.7],[0.15,5.2],[0.42,4.8],[0.6,5.5],[1.1,5.2],[1.7,5.1],[2.5,5.5],[3.45,7.0],[4.0,8.3],[4.5,8.5],[6,8.26],[8,8.25]],
  [[0,10.6],[0.16,5.1],[0.45,5.0],[0.7,5.6],[1.2,5.25],[1.8,5.2],[2.6,5.55],[3.6,7.0],[4.2,8.3],[4.7,8.48],[6,8.26],[8,8.25]],
  [[0,10.55],[0.16,5.05],[0.42,4.95],[0.67,5.5],[1.2,4.85],[1.8,4.85],[2.7,5.5],[3.7,7.0],[4.3,8.3],[4.8,8.46],[6,8.26],[8,8.25]],
  [[0,10.5],[0.16,5.0],[0.4,4.9],[0.65,5.4],[1.2,4.5],[1.8,4.5],[2.8,5.5],[3.8,7.0],[4.4,8.3],[4.9,8.45],[6,8.26],[8,8.25]],
  [[0,10.4],[0.17,4.9],[0.45,5.0],[0.7,5.2],[1.2,4.7],[2,4.7],[3,5.6],[3.95,7.0],[4.6,8.3],[5.1,8.42],[6,8.26],[8,8.25]],
  [[0,10.3],[0.17,4.8],[0.45,5.1],[0.7,5.0],[1.3,4.3],[2.2,4.6],[3.3,5.7],[4.3,7.2],[5.04,8.28],[5.6,8.35],[6.3,8.26],[8,8.25]]
];

// ---------------- drawing ----------------
const SERIF = '"Liberation Serif", "DejaVu Serif", serif';
const SANS = '"Liberation Sans", Arial, sans-serif';
const svg = d3.select('#chart');

const fromShared = (times, rows) => rows.map(r => r.map((v, i) => [times[i], v]));
const interleave = (a, b) => {
  const out = [];
  for (let i = 0; i < Math.max(a.length, b.length); i++) {
    if (i < a.length) out.push(a[i]);
    if (i < b.length) out.push(b[i]);
  }
  return out;
};
const tag = (lines, color) => lines.map(pts => ({ pts, color }));

// scale a text's font so that it spans the given width
function fitWidth(t, target) {
  const w = t.node().getComputedTextLength();
  const fs = parseFloat(t.style('font-size'));
  if (w > 0) t.style('font-size', (fs * target / w).toFixed(2) + 'px');
}

function sigmaLabel(g, b) {
  const box = b.box;
  g.append('rect')
    .attr('x', box[0]).attr('y', box[1]).attr('width', box[2]).attr('height', box[3])
    .attr('fill', '#fff').attr('stroke', '#000').attr('stroke-width', 2.2);
  const t = g.append('text')
    .attr('text-anchor', 'middle')
    .style('font-family', SERIF)
    .style('font-size', '20px');
  t.append('tspan').style('font-style', 'italic').text('σ');
  t.append('tspan').text(' = ');
  if (b.coef.root) {
    t.append('tspan').text('√');
    t.append('tspan').style('text-decoration', 'overline').text(b.coef.root);
  } else if (b.coef.k) {
    t.append('tspan').text(b.coef.k);
  }
  t.append('tspan').style('font-style', 'italic').text('σ');
  t.append('tspan').attr('dy', '0.3em').style('font-size', '0.72em').text('+');
  fitWidth(t, b.width);
  const fs = parseFloat(t.style('font-size'));
  t.attr('x', box[0] + box[2] / 2).attr('y', box[1] + box[3] / 2 + fs * 0.22);
}

function drawPanel(p) {
  const x = d3.scaleLinear().domain(p.xDomain).range([p.left, p.right]);
  const y = d3.scaleLinear().domain(p.yDomain).range([p.bottom, p.top]);
  const g = svg.append('g');

  g.append('clipPath').attr('id', 'clip-' + p.id)
    .append('rect')
    .attr('x', p.left).attr('y', p.top)
    .attr('width', p.right - p.left).attr('height', p.bottom - p.top);

  const plot = g.append('g').attr('clip-path', `url(#clip-${p.id})`);
  const line = d3.line()
    .x(d => x(d[0]))
    .y(d => y(d[1]))
    .curve(d3.curveMonotoneX);

  plot.selectAll('path.traj')
    .data(p.series)
    .enter().append('path')
    .attr('class', 'traj')
    .attr('d', d => line(d.pts))
    .attr('fill', 'none')
    .attr('stroke', d => d.color)
    .attr('stroke-width', 1);

  plot.selectAll('line.level')
    .data(p.levels)
    .enter().append('line')
    .attr('class', 'level')
    .attr('x1', x(0)).attr('x2', p.right)
    .attr('y1', d => y(d)).attr('y2', d => y(d))
    .attr('stroke', '#000')
    .attr('stroke-width', 3)
    .attr('stroke-dasharray', (d, i) => p.dashes[i]);

  // axes, ticks pointing inward on all four sides
  const minorX = d3.range(0, 8.01, 0.5);
  const minorY = d3.range(p.yDomain[0], p.yDomain[1] + 0.01, 0.5);
  const axisSpecs = [
    { make: d3.axisBottom, scale: x, at: `translate(0,${p.bottom})`, major: xTicks, minor: minorX, label: true, pad: p.xPad },
    { make: d3.axisTop, scale: x, at: `translate(0,${p.top})`, major: xTicks, minor: minorX, label: false, pad: 0 },
    { make: d3.axisLeft, scale: y, at: `translate(${p.left},0)`, major: p.yTicks, minor: minorY, label: true, pad: p.yPad },
    { make: d3.axisRight, scale: y, at: `translate(${p.right},0)`, major: p.yTicks, minor: minorY, label: false, pad: 0 }
  ];
  axisSpecs.forEach((s, k) => {
    g.append('g').attr('transform', s.at)
      .call(s.make(s.scale).tickValues(s.minor).tickSizeInner(-3).tickSizeOuter(0).tickFormat(''))
      .call(a => a.select('.domain').remove())
      .selectAll('line').attr('stroke', '#4d4d4d').attr('stroke-width', 1.2);
    const ax = g.append('g').attr('transform', s.at)
      .call(s.make(s.scale).tickValues(s.major).tickSizeInner(-6).tickSizeOuter(0).tickPadding(s.pad)
        .tickFormat(s.label ? d3.format('d') : ''))
      .call(a => a.select('.domain').remove());
    ax.selectAll('line').attr('stroke', '#4d4d4d').attr('stroke-width', 1.4);
    ax.selectAll('text')
      .style('font-family', SANS)
      .style('font-size', '13.5px')
      .attr('fill', '#111');
    if (k === 0) ax.selectAll('text').filter(d => d === 8).attr('dx', p.lastDx);
  });

  g.append('rect')
    .attr('x', p.left).attr('y', p.top)
    .attr('width', p.right - p.left).attr('height', p.bottom - p.top)
    .attr('fill', 'none').attr('stroke', '#4d4d4d').attr('stroke-width', 1.6);

  // group label
  g.append('rect')
    .attr('x', p.su.box[0]).attr('y', p.su.box[1])
    .attr('width', p.su.box[2]).attr('height', p.su.box[3])
    .attr('fill', '#fde3ca');
  const su = g.append('text')
    .attr('x', p.su.box[0] + p.su.box[2] / 2)
    .attr('text-anchor', 'middle')
    .style('font-family', SERIF)
    .style('font-size', '32px').style('font-weight', 'bold')
    .text(p.su.text);
  fitWidth(su, p.su.width);
  su.attr('y', p.su.box[1] + p.su.box[3] / 2 + parseFloat(su.style('font-size')) * 0.33);

  p.boxes.forEach(b => sigmaLabel(g, b));

  // axis titles
  const xt = g.append('text')
    .attr('x', (p.left + p.right) / 2 + 1).attr('y', p.xTitleY)
    .attr('text-anchor', 'middle')
    .style('font-family', SERIF).style('font-size', '24px');
  xt.append('tspan').text('Normalized time ');
  xt.append('tspan').style('font-style', 'italic').text('tH');
  fitWidth(xt, 194);

  const yt = g.append('text')
    .attr('transform', `translate(31,${(p.top + p.bottom) / 2}) rotate(-90)`)
    .attr('text-anchor', 'middle')
    .style('font-family', SERIF).style('font-size', '24px');
  yt.append('tspan').text('Normalized amplitude ');
  yt.append('tspan').style('font-style', 'italic').text('σ');
  yt.append('tspan').attr('dx', '-0.5em').attr('dy', '-0.42em').text('~');
  yt.append('tspan').attr('dy', '0.42em').text('(');
  yt.append('tspan').style('font-style', 'italic').text('t');
  yt.append('tspan').text(')');
  fitWidth(yt, 262);
}

// SU(3)
const su3Series = [].concat(
  tag(fromShared(su3RedTimes, su3Red), '#ff0000'),
  tag(su3Yellow, '#e6e600'),
  interleave(tag(su3Green, '#77ee00'), tag(su3Cyan, '#00d2f0'))
);

drawPanel({
  id: 'su3',
  left: 74, right: 591, top: 15, bottom: 337,
  xDomain: [-0.15, 8.1], yDomain: [0, 10],
  yTicks: su3YTicks, xPad: 7, yPad: 6, lastDx: 0,
  series: su3Series,
  levels: su3Levels,
  dashes: ['14,22', '17,20'],
  su: { text: 'SU(3)', box: [493, 25, 98, 43], width: 89 },
  boxes: [
    { box: [494, 129, 96, 28], coef: { k: '2' }, width: 83 },
    { box: [494, 217, 94, 27], coef: {}, width: 73 }
  ],
  xTitleY: 389
});

// SU(4)
const su4Series = [].concat(
  tag(fromShared(su4RedTimes, su4Red), '#c80000'),
  tag(su4GreenLow, '#5ec800'),
  tag(su4GreenMid, '#3cc400'),
  tag(su4Teal, '#00a9c8'),
  tag(su4Magenta, '#cc00cc')
);

drawPanel({
  id: 'su4',
  left: 74, right: 592, top: 413, bottom: 733,
  xDomain: [0, 8], yDomain: [0, 12],
  yTicks: su4YTicks, xPad: 8, yPad: 7, lastDx: -3,
  series: su4Series,
  levels: su4Levels,
  dashes: ['11,9', '12,23', '15,23', '28,24'],
  su: { text: 'SU(4)', box: [489, 424, 103, 43], width: 93 },
  boxes: [
    { box: [491, 479, 96, 28], coef: { root: '10' }, width: 81 },
    { box: [491, 559, 96, 28], coef: { k: '2' }, width: 60 },
    { box: [491, 602, 96, 26], coef: { root: '2' }, width: 74 },
    { box: [491, 668, 96, 28], coef: {}, width: 51 }
  ],
  xTitleY: 786
});
</script>
</body>
</html>
